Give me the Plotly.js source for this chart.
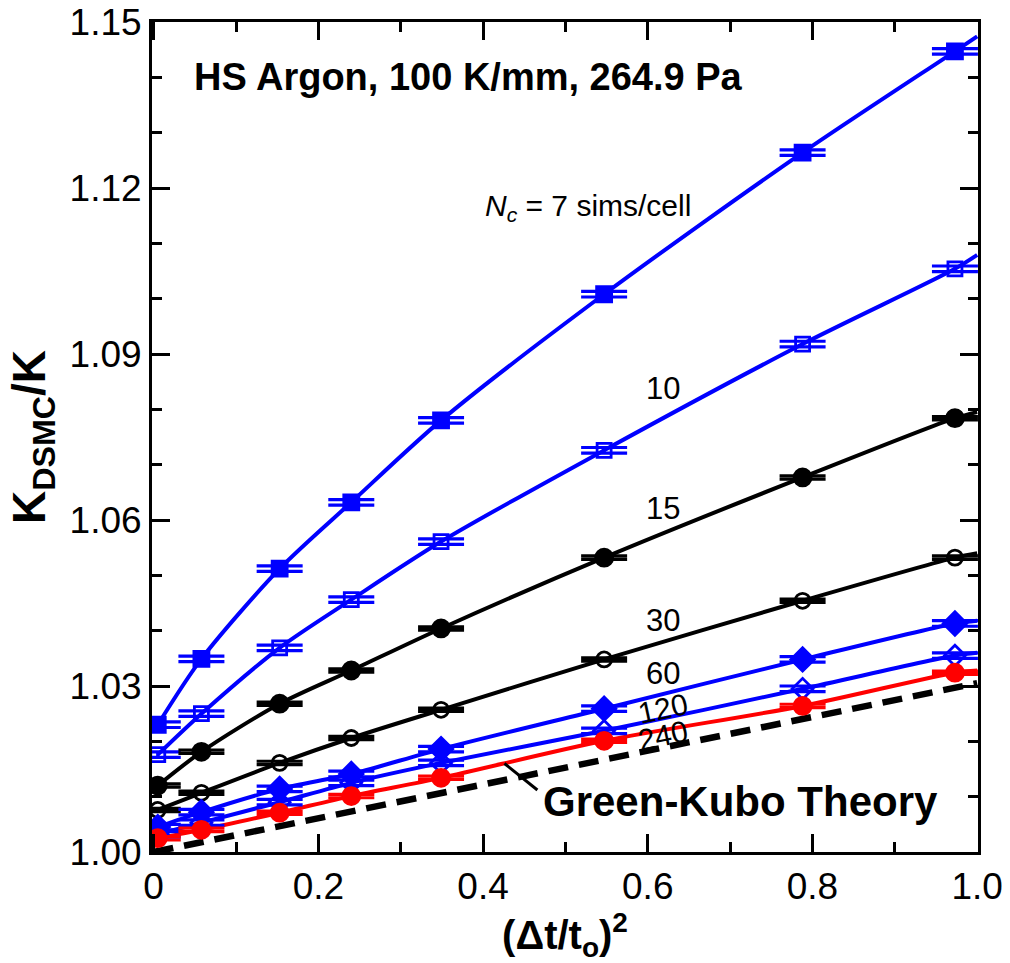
<!DOCTYPE html>
<html>
<head>
<meta charset="utf-8">
<script src="https://cdn.plot.ly/plotly-3.0.1.min.js"></script>
<style>
html,body{margin:0;padding:0;background:#fff;}
#chart{width:1010px;height:963px;}
</style>
</head>
<body>
<div id="chart"></div>
<script>
// (Δt/t_o)^2 sample positions
const xVals = [0.005, 0.058, 0.153, 0.240, 0.349, 0.547, 0.788, 0.973];
// K_DSMC/K for each Nc (sims/cell)
const y7   = [1.0230, 1.0349, 1.0512, 1.0632, 1.0780, 1.1008, 1.1264, 1.1447];
const y10  = [1.0176, 1.0250, 1.0369, 1.0456, 1.0561, 1.0726, 1.0918, 1.1054];
const y15  = [1.0120, 1.0181, 1.0268, 1.0328, 1.0404, 1.0532, 1.0677, 1.0784];
const y30  = [1.0076, 1.0107, 1.0161, 1.0206, 1.0257, 1.0348, 1.0454, 1.0532];
const y60  = [1.0045, 1.0072, 1.0114, 1.0141, 1.0186, 1.0259, 1.0348, 1.0413];
const y120 = [1.0032, 1.0053, 1.0090, 1.0125, 1.0161, 1.0219, 1.0295, 1.0355];
const y240 = [1.0025, 1.0040, 1.0071, 1.0101, 1.0134, 1.0201, 1.0264, 1.0324];
// fitted-curve value at the right edge (x = 1.0)
const fitEdgeX = 1.0;
const fitEnd = {n7: 1.1474, n10: 1.1079, n15: 1.0795, n30: 1.0540, n60: 1.0418, n120: 1.0360, n240: 1.0328};
// error bar half-heights
const err = {n7: 0.0005, n10: 0.0005, n15: 0.0003, n30: 0.0003, n60: 0.0005, n120: 0.0005, n240: 0.0003};
// Green-Kubo theory line
const gkX = [0.0, 1.0];
const gkY = [1.0000, 1.0305];
// axis ticks
const xTickVals = [0, 0.2, 0.4, 0.6, 0.8, 1.0];
const xTickText = ["0", "0.2", "0.4", "0.6", "0.8", "1.0"];
const yTickVals = [1.00, 1.03, 1.06, 1.09, 1.12, 1.15];
const yTickText = ["1.00", "1.03", "1.06", "1.09", "1.12", "1.15"];

const BLUE = "#0000ff", BLACK = "#000000", RED = "#ff0000";
const FONT = "Liberation Sans, Arial, Helvetica, sans-serif";

const series = [
  {y: y7,   key: "n7",   color: BLUE,  symbol: "square",       size: 15},
  {y: y10,  key: "n10",  color: BLUE,  symbol: "square-open",  size: 14},
  {y: y15,  key: "n15",  color: BLACK, symbol: "circle",       size: 17},
  {y: y30,  key: "n30",  color: BLACK, symbol: "circle-open",  size: 15},
  {y: y60,  key: "n60",  color: BLUE,  symbol: "diamond",      size: 18},
  {y: y120, key: "n120", color: BLUE,  symbol: "diamond-open", size: 16},
  {y: y240, key: "n240", color: RED,   symbol: "circle",       size: 17}
];

const traces = [];
// dashed theory line
traces.push({
  x: gkX, y: gkY, mode: "lines", type: "scatter", hoverinfo: "skip",
  line: {color: BLACK, width: 6.5, dash: "20px,11px"}
});
series.forEach(s => {
  traces.push({
    x: xVals.concat([fitEdgeX]), y: s.y.concat([fitEnd[s.key]]),
    mode: "lines", type: "scatter", hoverinfo: "skip",
    line: {color: s.color, width: 4, shape: "spline", smoothing: 0.8}
  });
});
series.forEach(s => {
  traces.push({
    x: xVals, y: s.y, mode: "markers", type: "scatter",
    marker: {color: s.color, symbol: s.symbol, size: s.size, line: {color: s.color, width: 2.8}},
    error_y: {type: "constant", value: err[s.key], color: s.color, thickness: 3.2, width: 23, visible: true}
  });
});

const annFont = {family: FONT, color: BLACK};
const annotations = [
  {x: 0.046, y: 1.1400, xanchor: "left", yanchor: "middle", showarrow: false,
   text: "<b>HS Argon, 100 K/mm, 264.9 Pa</b>", font: Object.assign({size: 38}, annFont)},
  {x: 0.400, y: 1.1164, xanchor: "left", yanchor: "middle", showarrow: false,
   text: "<i>N<sub>c</sub></i> = 7 sims/cell", font: Object.assign({size: 30}, annFont)},
  {x: 0.619, y: 1.0837, showarrow: false, text: "10", font: Object.assign({size: 31}, annFont)},
  {x: 0.619, y: 1.0621, showarrow: false, text: "15", font: Object.assign({size: 31}, annFont)},
  {x: 0.618, y: 1.0418, showarrow: false, text: "30", font: Object.assign({size: 31}, annFont)},
  {x: 0.618, y: 1.0322, showarrow: false, text: "60", font: Object.assign({size: 31}, annFont)},
  {x: 0.618, y: 1.0259, showarrow: false, text: "120", textangle: -12, font: Object.assign({size: 30}, annFont)},
  {x: 0.619, y: 1.0210, showarrow: false, text: "240", textangle: -12, font: Object.assign({size: 30}, annFont)},
  {x: 0.713, y: 1.0092, showarrow: false, text: "<b>Green-Kubo Theory</b>", font: Object.assign({size: 42}, annFont)}
];

const axisCommon = {
  showgrid: false, zeroline: false, showline: true, linecolor: BLACK, linewidth: 3,
  mirror: "ticks", ticks: "inside", ticklen: 18, tickwidth: 3, tickcolor: BLACK,
  tickfont: {family: FONT, size: 37, color: BLACK}
};

const layout = {
  width: 1010, height: 963,
  margin: {l: 152, r: 32, t: 22, b: 111},
  paper_bgcolor: "#fff", plot_bgcolor: "#fff",
  showlegend: false,
  font: {family: FONT, color: BLACK},
  xaxis: Object.assign({}, axisCommon, {
    range: [-0.002, 1.001], tickmode: "array", tickvals: xTickVals, ticktext: xTickText,
    minor: {ticks: "inside", ticklen: 10, tickwidth: 3, tickcolor: BLACK, dtick: 0.1, tick0: 0},
    title: {text: "<b>(Δt/t<sub>o</sub>)<sup>2</sup></b>", font: {family: FONT, size: 40, color: BLACK}, standoff: 28}
  }),
  yaxis: Object.assign({}, axisCommon, {
    range: [1.0, 1.15], tickmode: "array", tickvals: yTickVals, ticktext: yTickText,
    minor: {ticks: "inside", ticklen: 10, tickwidth: 3, tickcolor: BLACK, dtick: 0.01, tick0: 1.0},
    title: {text: "<b>K<sub>DSMC</sub>/K</b>", font: {family: FONT, size: 46, color: BLACK}, standoff: 10}
  }),
  shapes: [
    {type: "line", xref: "x", yref: "y", x0: 0.426, y0: 1.0160, x1: 0.466, y1: 1.0112,
     line: {color: BLACK, width: 3}}
  ],
  annotations: annotations
};

Plotly.newPlot("chart", traces, layout, {displayModeBar: false, staticPlot: true});
</script>
</body>
</html>
